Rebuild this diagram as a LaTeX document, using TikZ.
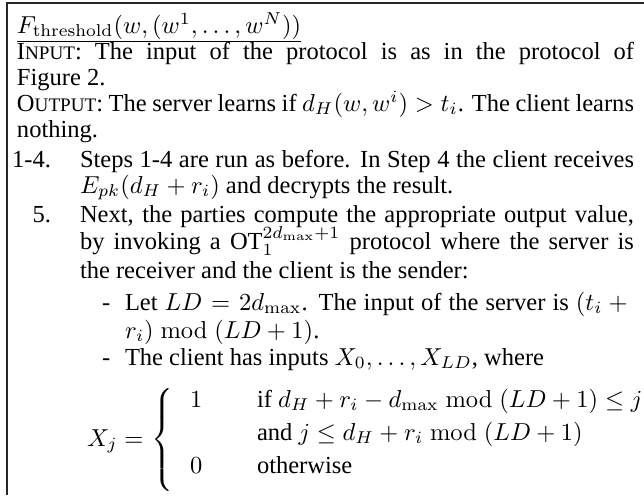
\documentclass[tikz,border=0pt]{standalone}
\usepackage[no-math]{fontspec}
\setmainfont{Liberation Serif}
% 1 unit of the drawing grid
\newdimen\uu \uu=0.408pt
% fake small caps: first letter full size, rest reduced
\newcommand{\fsc}[2]{#1{\fontsize{7.8}{9}\selectfont #2}}
% a justified line of a given width (in grid units)
\newcommand{\jline}[2]{\makebox[#1\uu][s]{#2}}
\tikzset{
  txt/.style={anchor=base west, inner sep=0pt, outer sep=0pt},
  lbl/.style={anchor=base east, inner sep=0pt, outer sep=0pt},
  frame/.style={line width=0.5pt, black!85},
  titlerule/.style={line width=0.4pt, black}
}
\begin{document}
\begin{tikzpicture}[x=0.408pt, y=-0.408pt, font=\fontsize{10}{12}\selectfont]
\useasboundingbox (0,0) rectangle (644,495);
% frame (top and left sides)
\coordinate (fl) at (7,495);
\coordinate (tl) at (7,3);
\coordinate (tr) at (644,3);
\draw[frame] (fl) -- (tl) -- (tr);

% title with rule
\node[txt] (title) at (17,33) {$F_{\mathrm{threshold}}(w,(w^1,\ldots,w^N))$};
\draw[titlerule] ([yshift=-3.3pt]title.base west) -- ([yshift=-3.3pt]title.base east);

% input / output
\node[txt] (in1) at (17,59) {\jline{617}{\fsc{I}{NPUT}: The input of the protocol is as in the protocol of}};
\node[txt] (in2) at (17,85) {Figure 2.};
\node[txt] (out1) at (17,111) {\jline{617}{\fsc{O}{UTPUT}: The server learns if $d_H(w,w^i) > t_i$. The client learns}};
\node[txt] (out2) at (17,137) {nothing.};

% step 1-4
\node[lbl] (l14) at (51,167) {1-4.};
\node[txt] (s1a) at (80,167) {\jline{554}{Steps 1-4 are run as before. In Step 4 the client receives}};
\node[txt] (s1b) at (80,193) {$E_{pk}(d_H + r_i)$ and decrypts the result.};

% step 5
\node[lbl] (l5) at (51,222) {5.};
\node[txt] (s5a) at (80,222) {\jline{554}{Next, the parties compute the appropriate output value,}};
\node[txt] (s5b) at (80,249) {\jline{554}{by invoking a $\mbox{OT}_1^{2d_{\max}+1}$ protocol where the server is}};
\node[txt] (s5c) at (80,278) {the receiver and the client is the sender:};

% sub-items
\node[txt] (d1) at (102,310) {-};
\node[txt] (a1) at (125,310) {\jline{509}{Let $LD = 2d_{\max}$. The input of the server is $(t_i +{}$}};
\node[txt] (a2) at (125,338) {$r_i) \bmod (LD+1)$.};
\node[txt] (d2) at (102,365) {-};
\node[txt] (b1) at (125,365) {The client has inputs $X_0,\ldots,X_{LD}$, where};

% case definition of X_j
\node[txt] (xj) at (87,446)
  {$\delimiterfactor=1000 \delimitershortfall=0pt
    X_j = \hspace{0.6pt}\left\{\vrule height 21.9pt depth 16.9pt width 0pt\right.$};
\node[txt] (c1v) at (190,407) {$1$};
\node[txt] (c1t) at (257,407) {if $d_H + r_i - d_{\max} \bmod (LD+1) \le j$};
\node[txt] (c2t) at (257,440) {and $j \le d_H + r_i \bmod (LD+1)$};
\node[txt] (c3v) at (190,473) {$0$};
\node[txt] (c3t) at (257,473) {otherwise};
\end{tikzpicture}
\end{document}
